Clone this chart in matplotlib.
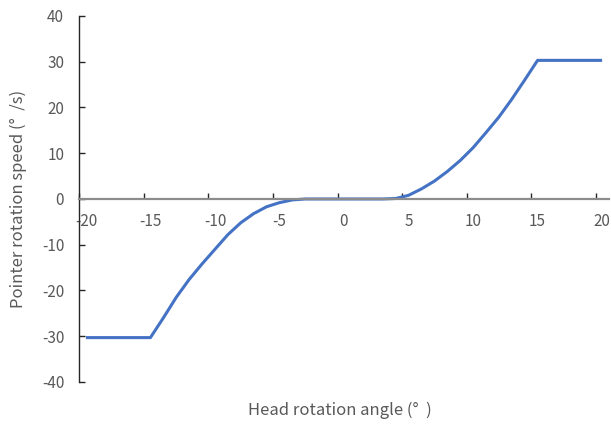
import numpy as np
import matplotlib
matplotlib.use("Agg")
import matplotlib.pyplot as plt

plt.rcParams['font.family'] = ['Noto Sans CJK JP', 'DejaVu Sans']
plt.rcParams['axes.unicode_minus'] = False

# head rotation angle (deg) and pointer speed (deg/s)
angle = list(range(-20, 21))
speed = [-30.3, -30.3, -30.3, -30.3, -30.3, -30.3,
         -26.0, -21.5, -17.6, -14.2, -11.0, -7.8, -5.2, -3.2, -1.7, -0.8, -0.2,
         0, 0, 0, 0, 0, 0, 0,
         0.1, 0.8, 2.2, 3.9, 6.0, 8.4, 11.2, 14.5, 17.9, 21.8, 26.0, 30.3,
         30.3, 30.3, 30.3, 30.3, 30.3]
xtick_labels = [-20, -15, -10, -5, 0, 5, 10, 15, 20]
yticks = [-40, -30, -20, -10, 0, 10, 20, 30, 40]

grey = '#595959'

fig = plt.figure(figsize=(6.11, 4.25), dpi=100)
ax = fig.add_axes([0.130, 0.1012, 0.866, 0.8612])

ax.plot(angle, speed, color='#4472C4', lw=2.2, solid_capstyle='butt')

ax.set_xlim(-20.5, 20.5)
ax.set_ylim(-40, 40)

ax.spines['top'].set_visible(False)
ax.spines['right'].set_visible(False)
ax.spines['bottom'].set_position(('data', 0))
ax.spines['bottom'].set_color('#8c8c8c')
ax.spines['bottom'].set_linewidth(1.6)
ax.spines['left'].set_color('#262626')
ax.spines['left'].set_linewidth(1.0)

# labels sit on the categories, tick marks between them
ax.set_xticks(xtick_labels)
ax.set_xticklabels([str(v) for v in xtick_labels])
ax.set_xticks([v - 0.5 for v in xtick_labels], minor=True)
ax.tick_params(axis='x', which='major', length=0, pad=10, labelsize=11, labelcolor=grey)
ax.tick_params(axis='x', which='minor', direction='in', length=4, width=1, color='#262626')

ax.set_yticks(yticks)
ax.set_yticklabels([str(v) for v in yticks])
ax.tick_params(axis='y', direction='in', length=4.5, width=1, color='#262626',
               pad=11, labelsize=11, labelcolor=grey)

ax.set_xlabel('Head rotation angle (°  )', fontsize=12, color=grey, va='center')
ax.set_ylabel('Pointer rotation speed (°  /s)', fontsize=12, color=grey, va='center')
ax.xaxis.set_label_coords(0.4925, -0.0765)
ax.yaxis.set_label_coords(-0.116, 0.5)

fig.savefig('out.png', dpi=100)
